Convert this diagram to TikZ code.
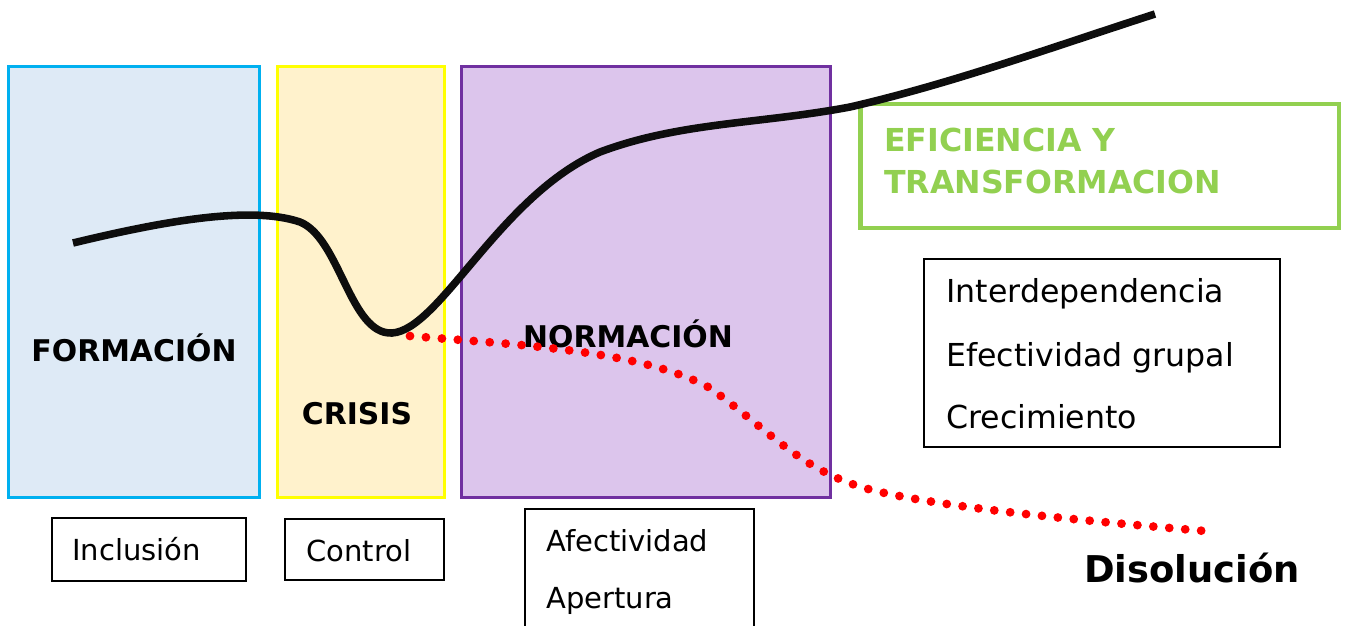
\documentclass[tikz,border=0pt]{standalone}
\usepackage{fontspec}
\setmainfont{DejaVu Sans}

\definecolor{formfill}{HTML}{DEEAF6}
\definecolor{formline}{HTML}{00B0F0}
\definecolor{crisfill}{HTML}{FFF2CC}
\definecolor{crisline}{HTML}{FFFF00}
\definecolor{normfill}{HTML}{DCC5EC}
\definecolor{normline}{HTML}{7030A0}
\definecolor{efgreen}{HTML}{92D050}

\begin{document}
\begin{tikzpicture}[x=0.02cm,y=-0.02cm,
	stage/.style={draw, line width=1.7pt, inner sep=0pt, minimum height=8.64cm},
	itembox/.style={draw=black, line width=1.5pt, inner sep=0pt},
	stagetext/.style={anchor=base, inner sep=0pt, font=\fontsize{17}{20}\bfseries\selectfont},
	itemtext/.style={anchor=base west, inner sep=0pt, font=\fontsize{16.5}{20}\selectfont}]
	
	\clip (0,0) rectangle (1347,626);
	
	\node [stage, draw=formline, fill=formfill, minimum width=5.04cm] (formacion) at (134,282) {};
	\node [stage, draw=crisline, fill=crisfill, minimum width=3.36cm] (crisis) at (361,282) {};
	\node [stage, draw=normline, fill=normfill, minimum width=7.4cm] (normacion) at (646,282) {};
	\node [draw=efgreen, line width=2.8pt, inner sep=0pt, minimum width=9.58cm, minimum height=2.48cm] (eficiencia) at (1099.5,166) {};
	
	\node [stagetext] at (134,361) {FORMACIÓN};
	\node [stagetext] at (357,424) {CRISIS};
	\node [stagetext] at (628,347) {NORMACIÓN};
	\node [itemtext, text=efgreen, font=\fontsize{18}{20}\bfseries\selectfont] (efi1) at (884,151) {EFICIENCIA Y};
	\node [itemtext, text=efgreen, font=\fontsize{18}{20}\bfseries\selectfont] (efi2) at (884,193) {TRANSFORMACION};
	
	\node [itembox, minimum width=7.12cm, minimum height=3.76cm] (logros) at (1102,353) {};
	\node [itemtext, font=\fontsize{18}{20}\selectfont] at (946,302) {Interdependencia};
	\node [itemtext, font=\fontsize{18}{20}\selectfont] at (946,366) {Efectividad grupal};
	\node [itemtext, font=\fontsize{18}{20}\selectfont] at (946,428) {Crecimiento};
	
	\node [itembox, minimum width=3.88cm, minimum height=1.26cm] (inclusion) at (149,549.5) {};
	\node [itemtext] at (72,560) {Inclusión};
	\node [itembox, minimum width=3.18cm, minimum height=1.22cm] (control) at (364.5,549.5) {};
	\node [itemtext] at (306,561) {Control};
	\node [itembox, minimum width=4.58cm, minimum height=3.02cm] (afecto) at (639.5,584.5) {};
	\node [itemtext] at (546,551) {Afectividad};
	\node [itemtext] at (546,608) {Apertura};
	
	\node [itemtext, font=\fontsize{21}{24}\bfseries\selectfont] (disolucion) at (1084,582) {Disolución};
	
	\draw [line width=4.3pt, color=black!95] (73,243) .. controls (160,222) and (250,205) .. (300,222)
		.. controls (340,238) and (350,335) .. (392,333)
		.. controls (440,330) and (500,195) .. (600,152)
		.. controls (680,122) and (760,124) .. (850,107)
		.. controls (950,84) and (1050,48) .. (1155,14);
	
	\draw [red, line width=5pt, line cap=round, dash pattern=on 0pt off 9.1pt] (410,336)
		.. controls (520,345) and (640,350) .. (710,388)
		.. controls (775,435) and (805,475) .. (880,492)
		.. controls (960,510) and (1100,522) .. (1205,531);
\end{tikzpicture}
\end{document}
